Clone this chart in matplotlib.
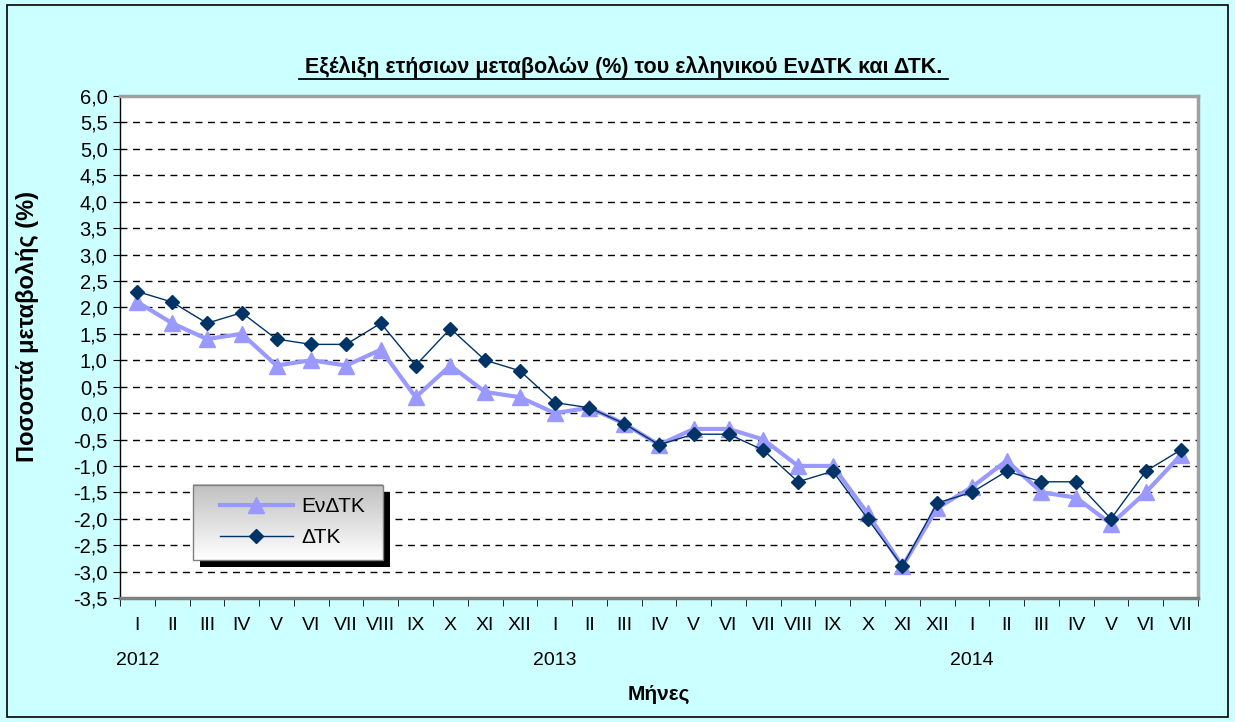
import numpy as np
import matplotlib.pyplot as plt
from matplotlib.patches import Rectangle
from matplotlib.lines import Line2D
import matplotlib.transforms as mtransforms

plt.rcParams['font.family'] = ['Liberation Sans', 'DejaVu Sans']

# Months 2012 I .. 2014 VII
months = ['I', 'II', 'III', 'IV', 'V', 'VI', 'VII', 'VIII', 'IX', 'X', 'XI', 'XII',
          'I', 'II', 'III', 'IV', 'V', 'VI', 'VII', 'VIII', 'IX', 'X', 'XI', 'XII',
          'I', 'II', 'III', 'IV', 'V', 'VI', 'VII']
years = ['2012', '2013', '2014']
year_pos = [0, 12, 24]

hicp = [2.1, 1.7, 1.4, 1.5, 0.9, 1.0, 0.9, 1.2, 0.3, 0.9, 0.4, 0.3,
        0.0, 0.1, -0.2, -0.6, -0.3, -0.3, -0.5, -1.0, -1.0, -1.9, -2.9, -1.8,
        -1.4, -0.9, -1.5, -1.6, -2.1, -1.5, -0.8]
cpi = [2.3, 2.1, 1.7, 1.9, 1.4, 1.3, 1.3, 1.7, 0.9, 1.6, 1.0, 0.8,
       0.2, 0.1, -0.2, -0.6, -0.4, -0.4, -0.7, -1.3, -1.1, -2.0, -2.9, -1.7,
       -1.5, -1.1, -1.3, -1.3, -2.0, -1.1, -0.7]

x = np.arange(len(months))
bg = '#CCFFFF'

fig = plt.figure(figsize=(12.35, 7.22), dpi=100, facecolor=bg)
ax = fig.add_axes([0.0972, 0.1717, 0.8728, 0.6953])
ax.set_facecolor('white')

# outer frame of the chart
fig.patches.append(Rectangle((7 / 1235, 5 / 722), 1221 / 1235, 712 / 722, transform=fig.transFigure,
                             fill=False, edgecolor='black', linewidth=1.2))

ax.plot(x, hicp, color='#9999FF', linewidth=3, marker='^', markersize=11,
        markeredgecolor='#9999FF', label='ΕνΔΤΚ', zorder=3)
ax.plot(x, cpi, color='#003366', linewidth=1, marker='D', markersize=7,
        markeredgecolor='#003366', label='ΔΤΚ', zorder=4)

ax.set_xlim(-0.5, len(months) - 0.5)
ax.set_ylim(-3.5, 6.0)
yt = np.arange(-3.5, 6.01, 0.5)
ax.set_yticks(yt)
ax.set_yticklabels([f'{v:.1f}'.replace('.', ',') for v in yt], fontsize=14.5)
for v in yt[1:-1]:
    ax.axhline(v, color='black', linestyle=(0, (5, 4)), linewidth=1, zorder=1)

ax.set_xticks(x)
ax.set_xticklabels(months, fontsize=14)
ax.tick_params(axis='x', length=0, pad=14)
ax.set_xticks(np.arange(-0.5, len(months), 1), minor=True)
ax.tick_params(axis='x', which='minor', length=6, direction='out', color='black')
ax.tick_params(axis='y', length=5, direction='out', color='black', pad=4)

trans = mtransforms.blended_transform_factory(ax.transData, ax.transAxes)
for yr, p in zip(years, year_pos):
    ax.text(p, -0.125, yr, transform=trans, ha='center', va='center', fontsize=14)

for s in ['top', 'right']:
    ax.spines[s].set_color('#A0A0A0')
    ax.spines[s].set_linewidth(2.5)
ax.spines['bottom'].set_color('#808080')
ax.spines['bottom'].set_linewidth(2.5)
ax.spines['left'].set_color('black')
ax.spines['left'].set_linewidth(1)

fig.text(28 / 1235, 1 - 327 / 722, 'Ποσοστά μεταβολής (%)', rotation=90,
         ha='center', va='center', fontsize=17, fontweight='bold')
ax.set_xlabel('Μήνες', fontsize=15, fontweight='bold', labelpad=36)
fig.text(624 / 1235, 1 - 67 / 722, 'Εξέλιξη ετήσιων μεταβολών (%) του ελληνικού ΕνΔΤΚ και ΔΤΚ.',
         ha='center', va='center', fontsize=15.5, fontweight='bold')
fig.add_artist(Line2D([299 / 1235, 948 / 1235], [1 - 79 / 722, 1 - 79 / 722], color='black', linewidth=1.3))

# legend box with shadow and gradient
lx0, ly0, lw, lh = 0.068, 0.076, 0.176, 0.15
ax.add_patch(Rectangle((lx0 + 0.006, ly0 - 0.014), lw, lh, transform=ax.transAxes,
                       facecolor='black', edgecolor='none', zorder=5))
grad = np.linspace(0.75, 1.0, 64).reshape(-1, 1)
ax.imshow(grad, cmap='gray', vmin=0, vmax=1, aspect='auto', origin='upper',
          extent=(lx0, lx0 + lw, ly0, ly0 + lh), transform=ax.transAxes, zorder=6)
ax.add_patch(Rectangle((lx0, ly0), lw, lh, transform=ax.transAxes,
                       fill=False, edgecolor='#808080', linewidth=1, zorder=7))
ax.set_xlim(-0.5, len(months) - 0.5)
ax.set_ylim(-3.5, 6.0)
leg = ax.legend(loc='center', bbox_to_anchor=(lx0 + lw / 2 + 0.004, ly0 + lh / 2),
                frameon=False, fontsize=15, handlelength=3.5, handletextpad=0.4,
                labelspacing=0.6)
leg.set_zorder(8)

fig.savefig('out.png', dpi=100, facecolor=bg)
